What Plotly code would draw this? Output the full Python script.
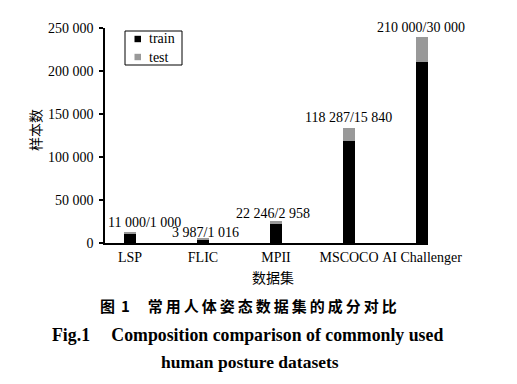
import plotly.graph_objects as go

categories = ["LSP", "FLIC", "MPII", "MSCOCO", "AI Challenger"]
train = [11000, 3987, 22246, 118287, 210000]
test = [1000, 1016, 2958, 15840, 30000]
bar_labels = ["11 000/1 000", "3 987/1 016", "22 246/2 958", "118 287/15 840", "210 000/30 000"]
series_names = ["train", "test"]
y_tickvals = [0, 50000, 100000, 150000, 200000, 250000]
y_ticktext = ["0", "50 000", "100 000", "150 000", "200 000", "250 000"]

# styles / placement (pixels)
colors = ["#000000", "#999999"]
label_xshift = [15, 3, -3, -1, -1]
label_yshift = [10, 6, 8, 10, 9]

serif = "Liberation Serif"
cjk = "Noto Sans CJK SC"

# page body has an 8px margin; work in page pixel coordinates
OFF = 8
PW, PH = 517, 384
W, H = PW - OFF, PH - OFF
left_px, right_px, top_px, bottom_px = 105, 428, 28, 243
ml, mt = left_px - OFF, top_px - OFF
mr, mb = PW - right_px, PH - bottom_px
pw, ph = right_px - left_px, bottom_px - top_px


def px_x(px):
    return (px - left_px) / pw


def px_y(py):
    return (bottom_px - py) / ph


x_idx = list(range(len(categories)))

fig = go.Figure()
for name, vals, col in zip(series_names, [train, test], colors):
    fig.add_trace(go.Bar(x=x_idx, y=vals, name=name, marker=dict(color=col, line=dict(width=0)),
                         width=0.165, showlegend=False))

annotations = []
for i, lab in enumerate(bar_labels):
    annotations.append(dict(x=x_idx[i], y=train[i] + test[i], xref="x", yref="y", text=lab,
                            showarrow=False, yanchor="middle", xanchor="center",
                            xshift=label_xshift[i], yshift=label_yshift[i],
                            font=dict(family=serif, size=14, color="#000")))

sp = "\u2009"
cap1 = "<b>图\u2009\u20091\u2003\u2009" + sp.join("常用人体姿态数据集的成分对比") + "</b>"
annotations.append(dict(x=px_x(248.5), y=px_y(305), xref="paper", yref="paper", text=cap1,
                        showarrow=False, yanchor="middle", xanchor="center",
                        font=dict(family=cjk, size=15, color="#000")))
annotations.append(dict(x=px_x(247.5), y=px_y(335), xref="paper", yref="paper",
                        text="<b>Fig.1\u2003\u2009Composition comparison of commonly used</b>",
                        showarrow=False, yanchor="middle", xanchor="center",
                        font=dict(family=serif, size=17.8, color="#000")))
annotations.append(dict(x=px_x(249.5), y=px_y(362), xref="paper", yref="paper",
                        text="<b>human posture datasets</b>",
                        showarrow=False, yanchor="middle", xanchor="center",
                        font=dict(family=serif, size=17.5, color="#000")))
annotations.append(dict(x=px_x(273), y=px_y(277), xref="paper", yref="paper",
                        text="数据集", showarrow=False, yanchor="middle", xanchor="center",
                        font=dict(family=cjk, size=14, color="#000")))
annotations.append(dict(x=px_x(35), y=px_y(130), xref="paper", yref="paper",
                        text="样本数", showarrow=False, yanchor="middle", xanchor="center",
                        textangle=-90, font=dict(family=cjk, size=14, color="#000")))

# legend (drawn manually to match the compact box)
shapes = [dict(type="rect", xref="paper", yref="paper", x0=px_x(125), x1=px_x(182),
               y0=px_y(65), y1=px_y(31), line=dict(color="#000", width=1), fillcolor="white")]
leg_rows = [39, 57]
for name, col, ry in zip(series_names, colors, leg_rows):
    shapes.append(dict(type="rect", xref="paper", yref="paper", x0=px_x(134.5), x1=px_x(141),
                       y0=px_y(ry + 3.2), y1=px_y(ry - 3.2), line=dict(width=0), fillcolor=col))
    annotations.append(dict(x=px_x(147), y=px_y(ry), xref="paper", yref="paper", text=name,
                            showarrow=False, xanchor="left", yanchor="middle",
                            font=dict(family=serif, size=14, color="#000")))

fig.update_layout(
    width=W, height=H,
    margin=dict(l=ml, r=mr, t=mt, b=mb, autoexpand=False),
    barmode="stack",
    plot_bgcolor="white", paper_bgcolor="white",
    font=dict(family=serif, size=14, color="#000"),
    showlegend=False,
    annotations=annotations,
    shapes=shapes,
)
fig.update_xaxes(range=[-0.342, 4.082], tickmode="array", tickvals=x_idx, ticktext=categories,
                 showline=True, linecolor="#000", linewidth=1.5, ticks="", showgrid=False,
                 zeroline=False, tickfont=dict(family=serif, size=14))
fig.update_yaxes(range=[0, 250000], tickmode="array", tickvals=y_tickvals, ticktext=y_ticktext,
                 showline=True, linecolor="#000", linewidth=1.5, ticks="outside", ticklen=4,
                 tickwidth=1.5, tickcolor="#000", showgrid=False, zeroline=False,
                 tickfont=dict(family=serif, size=14), ticklabelstandoff=3)

fig.write_html("out.html")
